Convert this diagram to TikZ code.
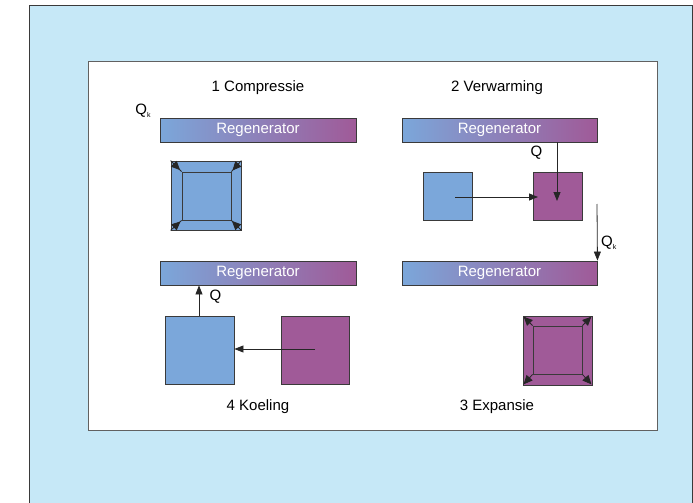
\documentclass[tikz,border=0pt]{standalone}
\usepackage{fontspec}
\setmainfont{Liberation Sans}
\usetikzlibrary{arrows.meta,calc}
\definecolor{bgblue}{HTML}{C6E8F7}
\definecolor{cblue}{HTML}{7BA7DA}
\definecolor{cpurple}{HTML}{A05A98}
\definecolor{edge}{HTML}{3A3A3A}
\begin{document}
\begin{tikzpicture}[x=1pt,y=-1pt,
  font=\fontsize{15}{17}\selectfont,
  regen/.style={draw=edge,line width=0.9pt,left color=cblue,right color=cpurple,
    minimum height=24pt,inner sep=0pt,text=white},
  sqbox/.style={draw=edge,line width=0.9pt,inner sep=0pt},
  flow/.style={draw=black!85,line width=0.8pt,-{Triangle[length=9pt,width=7pt]}},
  corner/.style={draw=black!85,line width=0.8pt},
  lbl/.style={inner sep=0pt}]
\useasboundingbox (0,0) rectangle (693,503);
% backgrounds
\path[fill=bgblue] (29,6) rectangle (693,503);
\draw[edge,line width=1pt] (29,503) -- (29,6) -- (692,6) -- (692,503);
\node[draw=edge!80,fill=white,line width=1pt,minimum width=569pt,minimum height=368pt,inner sep=0pt] (panel) at (372.5,246) {};
% titles
\node[lbl] (t1) at (258,88) {1 Compressie};
\node[lbl] (t2) at (497,88) {2 Verwarming};
\node[lbl] (t3) at (497,407) {3 Expansie};
\node[lbl] (t4) at (258,407) {4 Koeling};
% regenerators
\node[regen,minimum width=196pt] (r1) at (258,130) {Regenerator};
\node[regen,minimum width=195pt] (r2) at (499.5,130) {Regenerator};
\node[regen,minimum width=195pt] (r3) at (499.5,273) {Regenerator};
\node[regen,minimum width=196pt] (r4) at (258,273) {Regenerator};
% stage 1: compression
\node[sqbox,fill=cblue,minimum width=70pt,minimum height=69pt] (c1o) at (206,195.5) {};
\node[sqbox,fill=cblue,minimum width=49pt,minimum height=48pt] (c1i) at (206.5,196) {};
\foreach \a in {north west,north east,south west,south east}{
  \draw[corner] (c1o.\a) -- (c1i.\a);
  \draw[corner,-{Triangle[length=9pt,width=8pt]}] ($(c1o.\a)!4.5pt!(c1i.\a)$) -- ($(c1o.\a)!13.5pt!(c1i.\a)$);}
\node[lbl] (qk1) at (143,111) {Q\raisebox{-0.4ex}{\fontsize{7}{8}\selectfont k}};
% stage 2: heating
\node[sqbox,fill=cblue,minimum width=49pt,minimum height=48pt] (b2) at (447.5,196) {};
\node[sqbox,fill=cpurple,minimum width=49pt,minimum height=48pt] (p2) at (557.5,196) {};
\coordinate (h2s) at (455,197);
\coordinate (h2e) at (538,197);
\draw[flow] (h2s) -- (h2e);
\coordinate (v2e) at (557,201);
\draw[flow] (r2.south -| v2e) -- (v2e);
\node[lbl] (q2) at (536.5,153) {Q};
% transfer Qk
\coordinate (qks) at (597,204);
\draw[flow] (qks) -- (r3.north east);
\node[lbl,anchor=west] (qk2) at (601,243) {Q\raisebox{-0.4ex}{\fontsize{7}{8}\selectfont k}};
% stage 3: expansion
\node[sqbox,fill=cpurple,minimum width=69pt,minimum height=69pt] (e3o) at (557.5,350.5) {};
\node[sqbox,fill=cpurple,minimum width=49pt,minimum height=48pt] (e3i) at (557.5,350) {};
\foreach \a in {north west,north east,south west,south east}
  \draw[corner,-{Triangle[length=9pt,width=8pt]}] (e3i.\a) -- ($(e3o.\a)!1.5pt!(e3i.\a)$);
% stage 4: cooling
\node[sqbox,fill=cblue,minimum width=69pt,minimum height=68pt] (b4) at (199.5,350) {};
\node[sqbox,fill=cpurple,minimum width=68pt,minimum height=68pt] (p4) at (315,350) {};
\coordinate (h4s) at (315,349);
\draw[flow] (h4s) -- (h4s -| b4.east);
\draw[flow] (b4.north -| 199,0) -- (r4.south -| 199,0);
\node[lbl] (q4) at (215.5,297) {Q};
\end{tikzpicture}
\end{document}
